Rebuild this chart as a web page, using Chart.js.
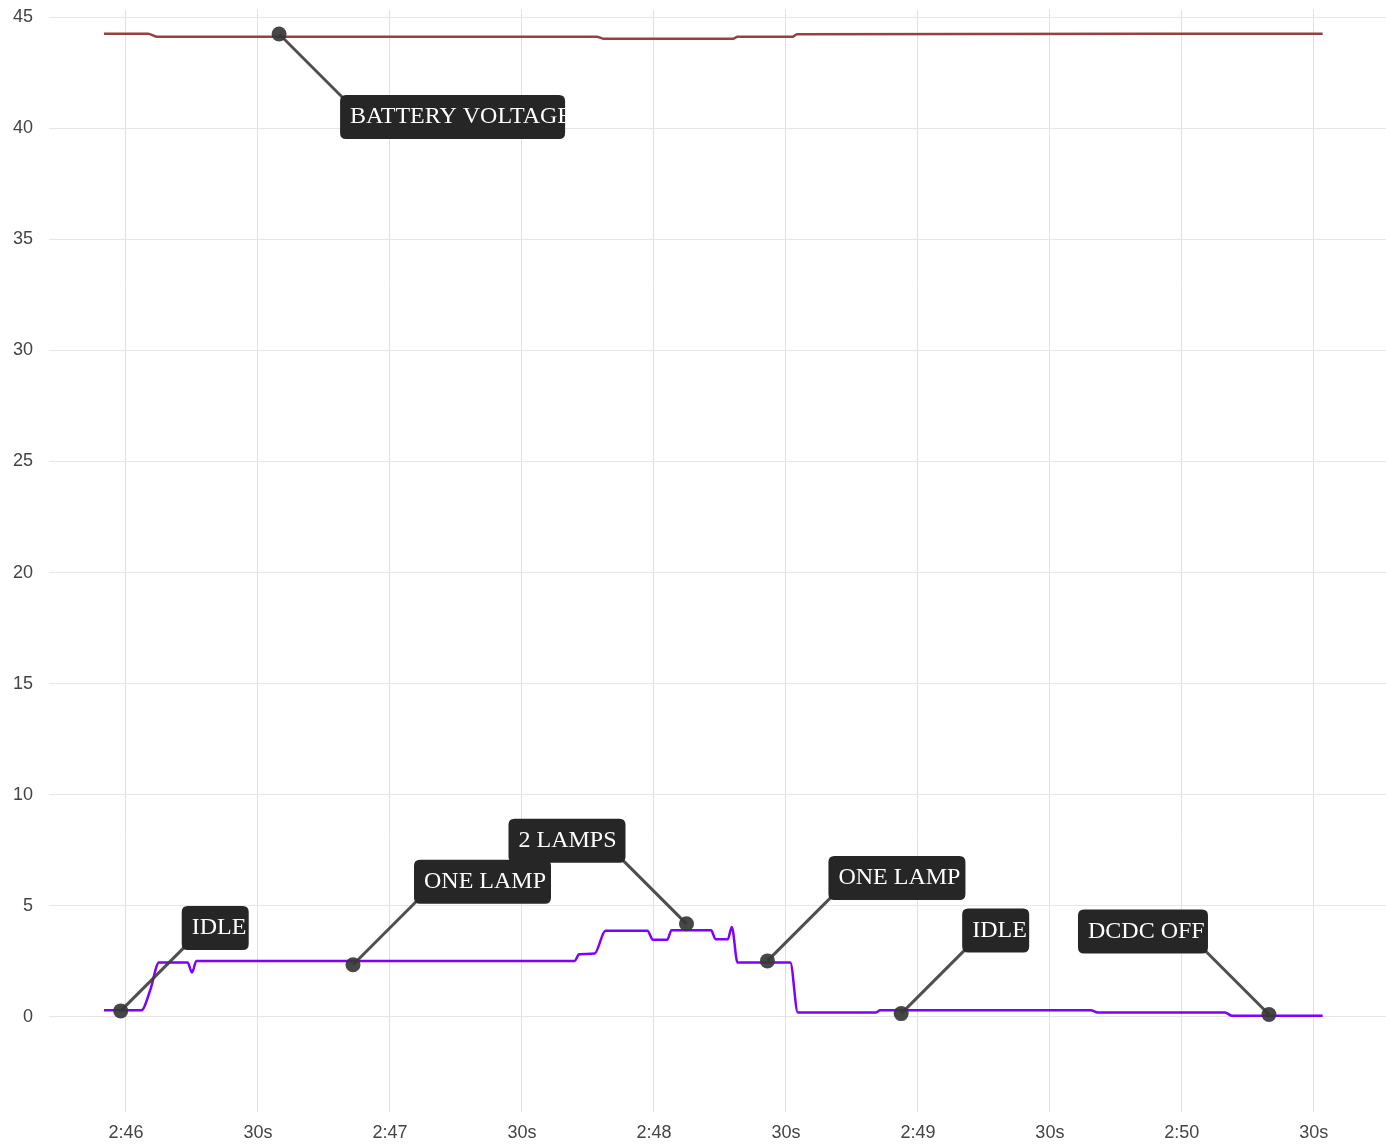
<!DOCTYPE html>
<html>
<head>
<meta charset="utf-8">
<script src="https://cdn.jsdelivr.net/npm/chart.js@4.4.1/dist/chart.umd.min.js"></script>
<style>
    html, body { margin: 0; padding: 0; background: #fff; }
    #wrap { width: 1386px; height: 1144px; position: relative; }
</style>
</head>
<body>
<div id="wrap"><canvas id="chart"></canvas></div>
<script>
// battery voltage samples
const batteryTimes = ['2:45:55', '2:46:05', '2:46:07', '2:47:47', '2:47:48.5', '2:48:18', '2:48:19', '2:48:31.5', '2:48:32.5', '2:50:32'];
const batteryVolts = [44.25, 44.25, 44.12, 44.12, 44.03, 44.03, 44.12, 44.12, 44.23, 44.25];

// load current samples
const currentTimes = [
    '2:45:55', '2:46:03.5', '2:46:05.5', '2:46:07.5', '2:46:14', '2:46:15', '2:46:16',
    '2:47:42', '2:47:43', '2:47:46.5', '2:47:49', '2:47:58.5', '2:47:59.8', '2:48:03',
    '2:48:04', '2:48:13', '2:48:14', '2:48:16.8', '2:48:17.7', '2:48:19', '2:48:31',
    '2:48:32.7', '2:48:50.5', '2:48:51.4', '2:49:39.3', '2:49:40.9', '2:50:09.8', '2:50:11.4', '2:50:32'
];
const currentAmps = [
    0.3, 0.3, 1.2, 2.45, 2.45, 2.0, 2.52,
    2.52, 2.82, 2.85, 3.88, 3.88, 3.47, 3.47,
    3.9, 3.9, 3.5, 3.5, 4.05, 2.45, 2.45,
    0.2, 0.2, 0.3, 0.3, 0.2, 0.2, 0.05, 0.05
];

// callouts
const noteLabels = ['BATTERY VOLTAGE', 'IDLE', 'ONE LAMP', '2 LAMPS', 'ONE LAMP', 'IDLE', 'DCDC OFF'];
const noteTimes = ['2:46:34.8', '2:45:58.8', '2:46:51.6', '2:48:07.4', '2:48:25.8', '2:48:56.2', '2:50:19.8'];
const noteValues = [44.24, 0.27, 2.35, 4.19, 2.52, 0.15, 0.11];

// axis ticks
const xTickTimes = ['2:46:00', '2:46:30', '2:47:00', '2:47:30', '2:48:00', '2:48:30', '2:49:00', '2:49:30', '2:50:00', '2:50:30'];
const xTickLabels = ['2:46', '30s', '2:47', '30s', '2:48', '30s', '2:49', '30s', '2:50', '30s'];
const yTickValues = [0, 5, 10, 15, 20, 25, 30, 35, 40, 45];

// callout layout (not data)
const noteDirs = ['se', 'ne', 'ne', 'nw', 'ne', 'ne', 'nw'];
const noteWidths = [225, 67, 137, 117, 137, 67, 130];

function toSec(s) {
    const parts = s.split(':');
    return parseInt(parts[0]) * 3600 + parseInt(parts[1]) * 60 + parseFloat(parts[2]);
}

const batteryData = batteryTimes.map((t, i) => ({ x: toSec(t), y: batteryVolts[i] }));
const currentData = currentTimes.map((t, i) => ({ x: toSec(t), y: currentAmps[i] }));

function roundRect(ctx, x, y, w, h, r) {
    ctx.beginPath();
    ctx.moveTo(x + r, y);
    ctx.lineTo(x + w - r, y);
    ctx.quadraticCurveTo(x + w, y, x + w, y + r);
    ctx.lineTo(x + w, y + h - r);
    ctx.quadraticCurveTo(x + w, y + h, x + w - r, y + h);
    ctx.lineTo(x + r, y + h);
    ctx.quadraticCurveTo(x, y + h, x, y + h - r);
    ctx.lineTo(x, y + r);
    ctx.quadraticCurveTo(x, y, x + r, y);
    ctx.closePath();
}

// draws the dark callout boxes with leader lines
const calloutPlugin = {
    id: 'callouts',
    afterDatasetsDraw(chart) {
        const ctx = chart.ctx;
        const xs = chart.scales.x;
        const ys = chart.scales.y;
        const off = 61;
        const boxH = 44;
        ctx.save();
        noteLabels.forEach((label, i) => {
            const px = xs.getPixelForValue(toSec(noteTimes[i]));
            const py = ys.getPixelForValue(noteValues[i]);
            const dir = noteDirs[i];
            const w = noteWidths[i];
            const cx = dir === 'nw' ? px - off : px + off;
            const cy = dir === 'se' ? py + off : py - off;
            const bx = dir === 'nw' ? cx - w : cx;
            const by = dir === 'se' ? cy : cy - boxH;

            ctx.strokeStyle = 'rgba(60, 60, 60, 0.9)';
            ctx.lineWidth = 3;
            ctx.beginPath();
            ctx.moveTo(px, py);
            ctx.lineTo(cx + (dir === 'nw' ? -4 : 4), cy + (dir === 'se' ? 4 : -4));
            ctx.stroke();

            ctx.fillStyle = 'rgba(55, 55, 55, 0.92)';
            ctx.beginPath();
            ctx.arc(px, py, 7.5, 0, Math.PI * 2);
            ctx.fill();

            ctx.fillStyle = '#262626';
            roundRect(ctx, bx, by, w, boxH, 6);
            ctx.fill();

            ctx.save();
            roundRect(ctx, bx, by, w, boxH, 6);
            ctx.clip();
            ctx.fillStyle = '#ffffff';
            ctx.font = '24px "Liberation Serif"';
            ctx.textBaseline = 'middle';
            ctx.textAlign = 'left';
            ctx.fillText(label, bx + 10, by + boxH / 2);
            ctx.restore();
        });
        ctx.restore();
    }
};

const tickFont = { family: '"Liberation Sans", Arial, sans-serif', size: 18 };

new Chart(document.getElementById('chart'), {
    type: 'line',
    data: {
        datasets: [
            {
                label: 'Battery voltage',
                data: batteryData,
                borderColor: '#983f3f',
                borderWidth: 2.5,
                pointRadius: 0,
                cubicInterpolationMode: 'monotone'
            },
            {
                label: 'Current',
                data: currentData,
                borderColor: '#7f00ff',
                borderWidth: 2.5,
                pointRadius: 0,
                cubicInterpolationMode: 'monotone'
            }
        ]
    },
    options: {
        responsive: true,
        maintainAspectRatio: false,
        animation: false,
        layout: { padding: { top: 10, right: 0, left: 0, bottom: 0 } },
        plugins: {
            legend: { display: false },
            tooltip: { enabled: false }
        },
        scales: {
            x: {
                type: 'linear',
                min: toSec('2:45:42.5'),
                max: toSec('2:50:46.4'),
                afterBuildTicks: scale => {
                    scale.ticks = xTickTimes.map(t => ({ value: toSec(t) }));
                },
                afterFit: scale => {
                    scale.height = 32;
                    scale.paddingLeft = 0;
                    scale.paddingRight = 0;
                },
                ticks: {
                    autoSkip: false,
                    maxRotation: 0,
                    padding: 10,
                    color: '#444',
                    font: tickFont,
                    callback: function (value) {
                        const idx = xTickTimes.findIndex(t => toSec(t) === value);
                        return idx >= 0 ? xTickLabels[idx] : '';
                    }
                },
                grid: { color: '#e0e0e0', drawTicks: false },
                border: { display: false }
            },
            y: {
                min: -4.28,
                max: 45.32,
                afterBuildTicks: scale => {
                    scale.ticks = yTickValues.map(v => ({ value: v }));
                },
                afterFit: scale => {
                    scale.width = 49;
                    scale.paddingTop = 0;
                    scale.paddingBottom = 0;
                },
                ticks: {
                    padding: 16,
                    color: '#444',
                    font: tickFont
                },
                grid: { color: '#e6e6e6', drawTicks: false },
                border: { display: false }
            }
        }
    },
    plugins: [calloutPlugin]
});
</script>
</body>
</html>
